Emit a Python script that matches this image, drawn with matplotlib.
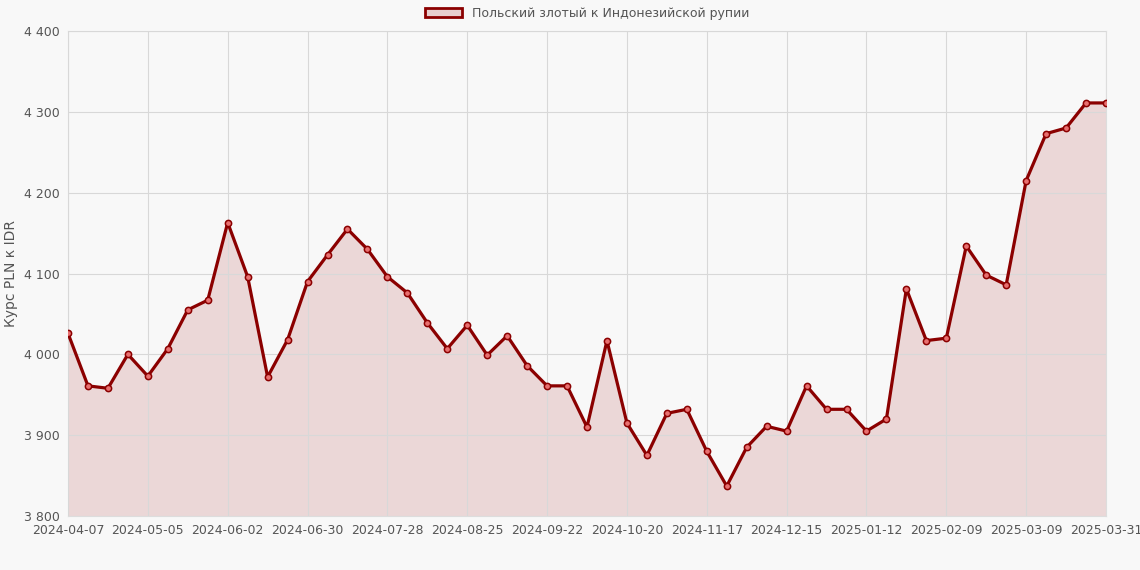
import matplotlib
matplotlib.use("Agg")
import matplotlib.pyplot as plt
from matplotlib.ticker import FuncFormatter
from matplotlib.patches import Patch
import datetime as dt

start = dt.date(2024, 4, 7)
dates = [(start + dt.timedelta(weeks=i)).isoformat() for i in range(52)] + ["2025-03-31"]
values = [4026, 3961, 3958, 4000, 3973, 4007, 4055, 4067, 4163, 4096, 3972, 4018, 4090, 4123,
          4155, 4130, 4096, 4076, 4039, 4007, 4036, 3999, 4023, 3986, 3961, 3961, 3910, 4017,
          3915, 3875, 3927, 3932, 3880, 3837, 3885, 3911, 3905, 3961, 3932, 3932, 3905, 3920,
          4081, 4017, 4020, 4134, 4098, 4086, 4215, 4273, 4280, 4311, 4311]
label = "Польский злотый к Индонезийской рупии"
ylabel = "Курс PLN к IDR"

bg = "#f8f8f8"
line = "#8b0000"
fig = plt.figure(figsize=(11.4, 5.7), dpi=100, facecolor=bg)
ax = fig.add_axes([68/1140, 1-516/570, (1106-68)/1140, (516-31)/570], facecolor=bg)
x = list(range(len(values)))
ax.fill_between(x, 3800, values, color="#e8cfcf", alpha=0.8, lw=0, zorder=1)
ax.plot(x, values, color=line, lw=2.3, marker="o", ms=4.5, mfc="#e87070", mec=line, mew=1.1,
        label=label, zorder=3)
ax.set_xlim(0, len(values)-1)
ax.set_ylim(3800, 4400)
ticks = list(range(0, 52, 4)) + [52]
ax.set_xticks(ticks)
ax.set_xticklabels([dates[i] for i in ticks])
ax.set_yticks(range(3800, 4401, 100))
ax.yaxis.set_major_formatter(FuncFormatter(lambda v, p: f"{int(v):,}".replace(",", " ")))
ax.set_axisbelow(False)
ax.grid(True, color="#d8d8d8", lw=0.8, zorder=2)
for s in ax.spines.values():
    s.set_color("#dddddd")
ax.tick_params(colors="#555555", labelsize=9, length=0, pad=6)
ax.set_ylabel(ylabel, color="#555555", fontsize=10)
ax.legend(handles=[Patch(facecolor="#e8cfcf", edgecolor=line, lw=2, label=label)],
          loc="lower center", bbox_to_anchor=(0.5, 1.0), frameon=False, fontsize=9,
          labelcolor="#555555", handlelength=3)
fig.savefig("out.png", dpi=100, facecolor=bg)
